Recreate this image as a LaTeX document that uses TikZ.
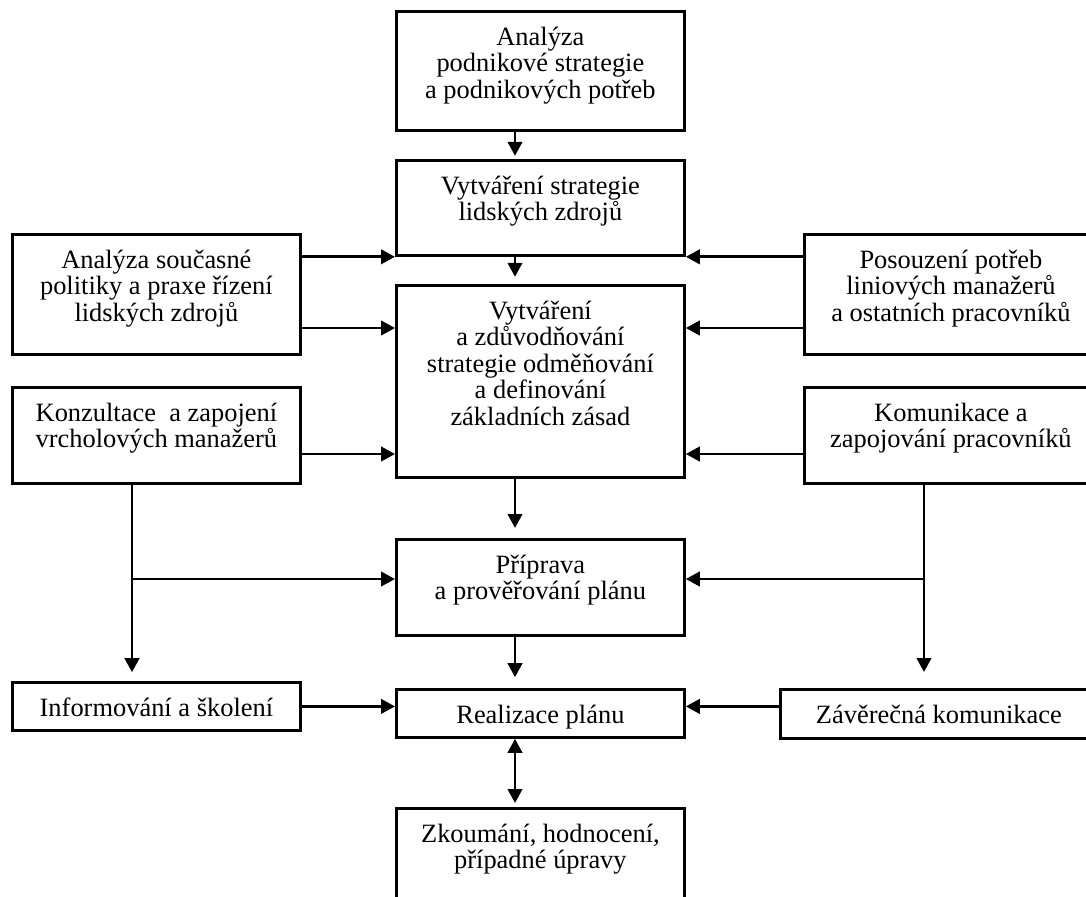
\documentclass[tikz,border=0pt]{standalone}
\usepackage{fontspec}
\setmainfont{Liberation Serif}
\usetikzlibrary{arrows.meta}
\newdimen\pxu \pxu=0.025cm
\tikzstyle{box}=[draw,line width=2pt,anchor=north west,inner sep=0pt,font={\fontsize{18.8}{18.85}\selectfont\lineskiplimit-20pt}]
\tikzstyle{edge} = [draw,line width=2pt,-{Triangle[length=0.35cm,width=0.36cm]}]
\tikzstyle{twoway} = [draw,line width=2pt,{Triangle[length=0.35cm,width=0.36cm]}-{Triangle[length=0.35cm,width=0.36cm]}]

\begin{document}
\begin{tikzpicture}[x=0.025cm,y=-0.025cm]
    \useasboundingbox (0,0) rectangle (1086,896);

    % First we draw the boxes (the right ones and the last one run off the page)
    \foreach \x/\y/\w/\h/\name/\txt in {395/10/288/119/anl/{Analýza\\podnikové strategie\\a podnikových potřeb},
        395/159/288/95/hrs/{Vytváření strategie\\lidských zdrojů},
        11/233/288/120/cur/{Analýza současné\\politiky a praxe řízení\\lidských zdrojů},
        395/284/288/192/rew/{Vytváření\\a zdůvodňování\\strategie odměňování\\a definování\\základních zásad},
        803/233/293/120/pos/{Posouzení potřeb\\liniových manažerů\\a ostatních pracovníků},
        11/386/288/96/kon/{Konzultace~ a zapojení\\vrcholových manažerů},
        803/386/293/96/kom/{Komunikace a\\zapojování pracovníků},
        395/538/288/96/pri/{Příprava\\a prověřování plánu},
        11/681/288/48/inf/{Informování a školení},
        395/688/288/48/rea/{Realizace plánu},
        779/688/317/49/zav/{Závěrečná komunikace},
        395/807/288/98/zko/{Zkoumání, hodnocení,\\případné úpravy}}
        \node[box] (\name) at (\x,\y) {\parbox[t][\h\pxu][t]{\w\pxu}{\centering\rule{0pt}{34\pxu}\txt}};

    % lanes of the connectors
    \coordinate (spine) at (515,0);
    \coordinate (lx) at (132,0);
    \coordinate (rx) at (924,0);
    \coordinate (r1) at (0,328);
    \coordinate (r2) at (0,454);
    \coordinate (r3) at (0,579);

    % Connect boxes with arrows
    \foreach \source/\dest/\gap in {anl.south -| spine/hrs.north -| spine/0.08cm, hrs.south -| spine/rew.north -| spine/0.18cm,
        rew.south -| spine/pri.north -| spine/0.25cm, pri.south -| spine/rea.north -| spine/0.27cm,
        cur.east |- hrs.south/hrs.south west/0cm, pos.west |- hrs.south/hrs.south east/0cm,
        cur.east |- r1/rew.west |- r1/0cm, pos.west |- r1/rew.east |- r1/0cm,
        kon.east |- r2/rew.west |- r2/0cm, kom.west |- r2/rew.east |- r2/0cm,
        kon.south -| lx/inf.north -| lx/0.22cm, kom.south -| rx/zav.north -| rx/0.4cm,
        lx |- r3/pri.west |- r3/0cm, rx |- r3/pri.east |- r3/0cm,
        inf.east/rea.west |- inf.east/0cm, zav.west |- inf.east/rea.east |- inf.east/0cm}
        \path[edge,shorten >=\gap] (\source) -- (\dest);
    \path[twoway,shorten >=0.1cm] (rea.south -| spine) -- (zko.north -| spine);
\end{tikzpicture}
\end{document}
